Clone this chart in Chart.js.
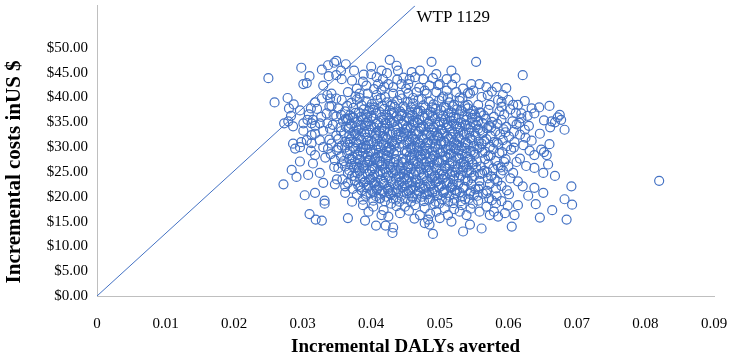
<!DOCTYPE html>
<html lang="en">
<head>
  <meta charset="UTF-8">
  <title>Incremental cost-effectiveness plane</title>
  <script src="https://cdn.jsdelivr.net/npm/chart.js"></script>
  <style>
    body { margin: 0; background: #fff; }
  </style>
</head>
<body>
  <canvas id="icerChart" width="738" height="357"></canvas>

  <script>
    // tick labels
    const xTicks = [0, 0.01, 0.02, 0.03, 0.04, 0.05, 0.06, 0.07, 0.08, 0.09];
    const xTickLabels = ['0', '0.01', '0.02', '0.03', '0.04', '0.05', '0.06', '0.07', '0.08', '0.09'];
    const yTicks = [0, 5, 10, 15, 20, 25, 30, 35, 40, 45, 50];

    // willingness-to-pay line (origin to top edge)
    const wtpLabel = 'WTP 1129';
    const wtpLine = [[0, 0], [0.0464, 58.5]];

    // simulated (DALYs averted, cost) pairs
    const upperPoints = [
      [0.0250,43.9],[0.0298,46.0],[0.0310,44.3],[0.0301,42.7],[0.0306,42.9],[0.0328,45.6],[0.0330,42.4],
      [0.0337,46.5],[0.0346,47.0],[0.0349,47.4],[0.0363,46.7],[0.0338,44.3],[0.0349,44.5],[0.0357,43.7],
      [0.0356,45.4],[0.0259,39.0],[0.0278,39.9],[0.0280,37.8],[0.0312,37.8],[0.0328,39.8],[0.0336,40.5],
      [0.0342,40.8],[0.0340,39.8],[0.0349,39.8],[0.0357,39.5],[0.0366,41.1],[0.0335,36.8],[0.0342,38.3],
      [0.0352,37.8],[0.0273,34.8],[0.0301,34.8],[0.0307,35.5],[0.0315,35.5],[0.0313,34.8],[0.0325,34.8],
      [0.0336,34.8],[0.0349,36.2],[0.0356,36.5],[0.0359,35.2],[0.0366,35.8],
      [0.0375,45.4],[0.0427,47.6],[0.0400,46.2],[0.0415,45.4],[0.0437,46.4],[0.0439,45.4],[0.0488,47.2],
      [0.0517,45.4],[0.0495,44.7],[0.0500,42.7],[0.0510,43.7],[0.0523,43.9],[0.0459,45.1],[0.0471,45.4],
      [0.0456,43.7],[0.0464,44.1],[0.0476,43.7],[0.0485,42.4],[0.0478,41.4],[0.0454,42.7],[0.0444,42.7],
      [0.0400,44.7],[0.0408,44.1],[0.0417,43.7],[0.0425,42.7],[0.0410,42.7],[0.0432,42.1],[0.0379,41.8],
      [0.0393,42.4],[0.0383,40.8],[0.0395,40.8],[0.0408,40.5],[0.0420,40.1],[0.0432,40.8],[0.0442,40.5],
      [0.0454,40.8],[0.0466,41.1],[0.0481,40.8],[0.0495,41.1],[0.0510,41.4],[0.0524,41.1],[0.0534,41.8],
      [0.0388,43.2],[0.0447,44.0],[0.0470,42.0],[0.0490,43.9],[0.0505,40.2],[0.0529,40.0],[0.0415,41.5],
      [0.0461,39.9],[0.0518,42.6],[0.0541,40.9],
      [0.0553,47.2],[0.0621,44.5],[0.0546,42.7],[0.0558,42.7],[0.0568,42.1],[0.0583,42.1],[0.0597,41.9],
      [0.0544,40.8],[0.0561,40.1],[0.0570,40.5],[0.0585,39.5],[0.0600,39.5],[0.0541,38.5],[0.0556,38.5],
      [0.0573,38.5],[0.0590,39.1],[0.0590,38.1],[0.0607,38.5],[0.0614,38.5],[0.0624,39.3],[0.0619,36.8],
      [0.0634,37.8],[0.0638,36.8],[0.0660,38.3],[0.0675,36.5],[0.0677,35.5],[0.0663,35.2],
      [0.0372,43.4],[0.0389,44.6],[0.0423,44.9],[0.0451,41.8],[0.0438,43.6],[0.0498,42.5],[0.0512,40.0],
      [0.0549,41.4],[0.0576,41.2],[0.0592,40.5],[0.0377,40.2],[0.0404,41.7],[0.0419,42.2]
    ];

    const corePoints = [
      [0.0371,38.9],[0.0379,39.6],[0.0386,38.4],[0.0393,39.2],[0.0401,38.7],[0.0409,39.5],[0.0416,38.3],
      [0.0423,39.0],[0.0431,38.6],[0.0438,39.4],[0.0447,38.2],[0.0453,39.1],[0.0461,38.8],[0.0469,39.6],
      [0.0476,38.4],[0.0484,39.2],[0.0491,38.6],[0.0499,39.4],[0.0506,38.1],[0.0514,39.0],[0.0521,38.5],
      [0.0529,39.3],[0.0537,38.3],[0.0287,38.6],[0.0318,39.0],[0.0645,38.0],
      [0.0296,37.4],[0.0321,37.7],[0.0362,37.2],[0.0374,37.9],[0.0382,37.0],[0.0389,37.6],[0.0397,37.3],
      [0.0405,38.0],[0.0412,37.1],[0.0419,37.7],[0.0427,37.4],[0.0434,38.1],[0.0442,37.2],[0.0449,37.8],
      [0.0457,37.0],[0.0464,37.6],[0.0472,37.3],[0.0479,38.0],[0.0487,37.1],[0.0494,37.7],[0.0502,37.4],
      [0.0509,37.9],[0.0517,37.0],[0.0525,37.6],[0.0533,37.2],[0.0541,37.8],[0.0549,37.3],[0.0558,37.0],
      [0.0571,37.5],[0.0587,37.2],[0.0603,37.6],[0.0611,36.9],
      [0.0283,36.3],[0.0309,36.6],[0.0327,36.1],[0.0369,36.4],[0.0377,36.9],[0.0385,36.1],[0.0392,36.6],
      [0.0400,36.2],[0.0407,36.8],[0.0415,36.0],[0.0422,36.5],[0.0430,36.9],[0.0437,36.2],[0.0445,36.7],
      [0.0452,36.0],[0.0460,36.5],[0.0467,36.9],[0.0475,36.2],[0.0482,36.7],[0.0490,36.1],[0.0497,36.6],
      [0.0505,36.3],[0.0512,36.8],[0.0520,36.1],[0.0528,36.6],[0.0536,36.2],[0.0545,36.7],[0.0553,36.0],
      [0.0564,36.4],[0.0579,36.1],[0.0594,36.6],[0.0628,36.3],[0.0672,36.0],[0.0668,35.0],
      [0.0279,35.2],[0.0365,35.4],[0.0373,35.9],[0.0380,35.1],[0.0388,35.6],[0.0395,35.2],[0.0403,35.8],
      [0.0410,35.0],[0.0418,35.5],[0.0425,35.9],[0.0433,35.1],[0.0440,35.6],[0.0448,35.3],[0.0455,35.8],
      [0.0463,35.0],[0.0470,35.5],[0.0478,35.9],[0.0485,35.2],[0.0493,35.7],[0.0500,35.1],[0.0508,35.6],
      [0.0516,35.3],[0.0523,35.8],[0.0531,35.0],[0.0539,35.5],[0.0547,35.9],[0.0556,35.2],[0.0567,35.7],
      [0.0576,35.1],[0.0590,35.5],[0.0606,35.2],[0.0619,35.8],[0.0652,35.4],
      [0.0286,34.2],[0.0318,34.3],[0.0344,34.5],[0.0363,34.1],[0.0370,34.7],[0.0378,34.0],[0.0385,34.5],
      [0.0393,34.9],[0.0400,34.2],[0.0408,34.7],[0.0415,34.0],[0.0423,34.6],[0.0430,34.9],[0.0438,34.2],
      [0.0446,34.7],[0.0453,34.1],[0.0461,34.5],[0.0468,34.9],[0.0476,34.2],[0.0483,34.7],[0.0491,34.0],
      [0.0498,34.5],[0.0506,34.9],[0.0513,34.2],[0.0521,34.7],[0.0529,34.1],[0.0537,34.6],[0.0545,34.0],
      [0.0553,34.5],[0.0562,34.9],[0.0572,34.3],[0.0584,34.7],[0.0597,34.1],[0.0612,34.6],[0.0630,34.3],
      [0.0661,34.0],
      [0.0301,33.3],[0.0330,33.3],[0.0340,33.7],[0.0356,33.2],[0.0367,33.7],[0.0375,33.1],[0.0382,33.6],
      [0.0390,33.0],[0.0397,33.5],[0.0405,33.9],[0.0412,33.2],[0.0420,33.7],[0.0427,33.1],[0.0435,33.6],
      [0.0443,33.0],[0.0450,33.5],[0.0458,33.9],[0.0465,33.2],[0.0473,33.7],[0.0480,33.1],[0.0488,33.6],
      [0.0495,33.0],[0.0503,33.5],[0.0510,33.9],[0.0518,33.2],[0.0526,33.7],[0.0534,33.1],[0.0542,33.6],
      [0.0550,33.0],[0.0559,33.4],[0.0569,33.8],[0.0581,33.2],[0.0593,33.6],[0.0608,33.1],[0.0624,33.5],
      [0.0682,33.5],
      [0.0313,32.4],[0.0318,32.7],[0.0349,32.3],[0.0360,32.8],[0.0368,32.2],[0.0376,32.7],[0.0383,32.1],
      [0.0391,32.6],[0.0398,32.9],[0.0406,32.3],[0.0413,32.8],[0.0421,32.0],[0.0428,32.5],[0.0436,32.9],
      [0.0443,32.2],[0.0451,32.7],[0.0459,32.1],[0.0466,32.6],[0.0474,32.0],[0.0481,32.5],[0.0489,32.9],
      [0.0496,32.2],[0.0504,32.7],[0.0511,32.1],[0.0519,32.6],[0.0527,32.0],[0.0535,32.5],[0.0543,32.9],
      [0.0552,32.3],[0.0562,32.8],[0.0574,32.2],[0.0588,32.6],[0.0601,32.1],[0.0617,32.5],[0.0646,32.7],
      [0.0286,30.7],[0.0298,31.0],[0.0306,31.4],[0.0313,30.8],[0.0325,31.4],[0.0342,30.7],[0.0352,31.6],
      [0.0362,31.1],[0.0370,31.6],[0.0378,31.0],[0.0385,31.5],[0.0393,31.9],[0.0400,31.2],[0.0408,31.7],
      [0.0415,31.1],[0.0423,31.6],[0.0430,31.0],[0.0438,31.5],[0.0446,31.9],[0.0453,31.2],[0.0461,31.7],
      [0.0468,31.1],[0.0476,31.6],[0.0483,31.0],[0.0491,31.5],[0.0498,31.9],[0.0506,31.2],[0.0513,31.7],
      [0.0521,31.1],[0.0529,31.6],[0.0538,31.0],[0.0547,31.5],[0.0557,31.1],[0.0568,31.6],[0.0579,31.0],
      [0.0592,31.4],[0.0609,31.0],[0.0634,31.3],
      [0.0289,29.7],[0.0296,30.0],[0.0330,30.0],[0.0337,29.7],[0.0357,30.3],[0.0366,30.8],[0.0373,30.1],
      [0.0381,30.6],[0.0388,30.0],[0.0396,30.5],[0.0403,30.9],[0.0411,30.2],[0.0418,30.7],[0.0426,30.1],
      [0.0433,30.6],[0.0441,30.0],[0.0448,30.5],[0.0456,30.9],[0.0463,30.2],[0.0471,30.7],[0.0478,30.1],
      [0.0486,30.6],[0.0493,30.0],[0.0501,30.5],[0.0508,30.9],[0.0516,30.2],[0.0524,30.7],[0.0532,30.1],
      [0.0541,30.6],[0.0550,30.2],[0.0561,30.7],[0.0573,30.1],[0.0585,30.6],[0.0598,30.2],[0.0622,30.4],
      [0.0660,30.6],
      [0.0312,29.3],[0.0350,29.4],[0.0362,29.9],[0.0369,29.2],[0.0377,29.7],[0.0384,29.1],[0.0392,29.6],
      [0.0399,29.0],[0.0407,29.5],[0.0414,29.9],[0.0422,29.2],[0.0429,29.7],[0.0437,29.1],[0.0452,29.0],
      [0.0459,29.5],[0.0467,29.9],[0.0474,29.2],[0.0482,29.7],[0.0489,29.1],[0.0497,29.6],[0.0504,29.0],
      [0.0512,29.5],[0.0520,29.9],[0.0528,29.3],[0.0536,29.8],[0.0545,29.2],[0.0555,29.7],[0.0566,29.1],
      [0.0578,29.6],[0.0591,29.0],[0.0604,29.5],[0.0648,29.5],[0.0652,29.0],
      [0.0318,28.4],[0.0341,28.6],[0.0356,28.1],[0.0365,28.7],[0.0373,28.0],[0.0380,28.5],[0.0388,28.9],
      [0.0395,28.2],[0.0403,28.7],[0.0410,28.1],[0.0418,28.6],[0.0425,28.0],[0.0433,28.8],[0.0456,28.3],
      [0.0463,28.8],[0.0471,28.1],[0.0478,28.6],[0.0486,28.0],[0.0493,28.5],[0.0501,28.9],[0.0508,28.2],
      [0.0516,28.7],[0.0524,28.1],[0.0532,28.6],[0.0541,28.0],[0.0551,28.5],[0.0562,28.9],[0.0574,28.3],
      [0.0587,28.8],[0.0617,27.7],[0.0638,28.4],[0.0656,28.4],
      [0.0296,27.1],[0.0347,27.4],[0.0360,27.2],[0.0368,27.7],[0.0376,27.1],[0.0383,27.6],[0.0391,27.0],
      [0.0398,27.5],[0.0406,27.9],[0.0413,27.2],[0.0421,27.7],[0.0428,27.1],[0.0436,27.6],[0.0444,27.0],
      [0.0451,27.5],[0.0459,27.9],[0.0466,27.2],[0.0474,27.7],[0.0481,27.1],[0.0489,27.6],[0.0496,27.0],
      [0.0504,27.5],[0.0511,27.9],[0.0519,27.2],[0.0527,27.7],[0.0535,27.1],[0.0544,27.6],[0.0554,27.1],
      [0.0566,27.6],[0.0581,27.2],[0.0596,27.6],
      [0.0315,26.7],[0.0357,26.7],[0.0362,26.1],[0.0371,26.6],[0.0379,26.0],[0.0386,26.5],[0.0394,26.9],
      [0.0401,26.2],[0.0409,26.7],[0.0416,26.1],[0.0424,26.6],[0.0431,26.0],[0.0439,26.5],[0.0446,26.9],
      [0.0454,26.2],[0.0461,26.7],[0.0469,26.1],[0.0476,26.6],[0.0484,26.0],[0.0491,26.5],[0.0499,26.9],
      [0.0507,26.2],[0.0514,26.7],[0.0522,26.1],[0.0530,26.6],[0.0539,26.0],[0.0549,26.5],[0.0560,26.1],
      [0.0571,26.6],[0.0585,26.2],[0.0600,26.1],[0.0626,26.2],[0.0638,25.8],[0.0658,26.5],
      [0.0284,25.4],[0.0352,25.8],[0.0368,25.3],[0.0375,25.8],[0.0383,25.2],[0.0390,25.7],[0.0398,25.1],
      [0.0405,25.6],[0.0413,25.0],[0.0420,25.5],[0.0428,25.9],[0.0435,25.2],[0.0443,25.7],[0.0450,25.1],
      [0.0458,25.6],[0.0465,25.0],[0.0473,25.5],[0.0480,25.9],[0.0488,25.2],[0.0495,25.7],[0.0503,25.1],
      [0.0511,25.6],[0.0518,25.0],[0.0526,25.5],[0.0534,25.9],[0.0543,25.3],[0.0553,25.8],[0.0565,25.2],
      [0.0578,25.7],[0.0592,25.3],
      [0.0291,24.0],[0.0308,24.4],[0.0325,24.8],[0.0366,24.8],[0.0372,24.2],[0.0380,24.7],[0.0387,24.1],
      [0.0395,24.6],[0.0402,24.0],[0.0410,24.5],[0.0417,24.9],[0.0425,24.2],[0.0432,24.7],[0.0440,24.1],
      [0.0447,24.6],[0.0455,24.0],[0.0462,24.5],[0.0470,24.9],[0.0477,24.2],[0.0485,24.7],[0.0492,24.1],
      [0.0500,24.6],[0.0507,24.0],[0.0515,24.5],[0.0523,24.9],[0.0531,24.3],[0.0540,24.8],[0.0550,24.2],
      [0.0562,24.7],[0.0575,24.1],[0.0589,24.6],[0.0607,24.8],[0.0651,24.8],[0.0668,24.2],
      [0.0358,23.5],[0.0376,23.2],[0.0384,23.7],[0.0391,23.1],[0.0399,23.6],[0.0406,23.0],[0.0414,23.5],
      [0.0421,23.9],[0.0429,23.2],[0.0436,23.7],[0.0444,23.1],[0.0451,23.6],[0.0459,23.0],[0.0466,23.5],
      [0.0474,23.9],[0.0481,23.2],[0.0489,23.7],[0.0496,23.1],[0.0504,23.6],[0.0512,23.0],[0.0520,23.5],
      [0.0528,23.9],[0.0537,23.3],[0.0547,23.8],[0.0558,23.2],[0.0570,23.7],[0.0584,23.1],[0.0614,23.1],
      [0.0272,22.5],[0.0330,22.8],[0.0347,22.5],[0.0362,22.1],[0.0366,22.8],[0.0381,22.3],[0.0389,22.8],
      [0.0396,22.2],[0.0404,22.7],[0.0411,22.1],[0.0419,22.6],[0.0426,22.0],[0.0434,22.5],[0.0441,22.9],
      [0.0449,22.2],[0.0456,22.7],[0.0464,22.1],[0.0471,22.6],[0.0479,22.0],[0.0486,22.5],[0.0494,22.9],
      [0.0502,22.2],[0.0510,22.7],[0.0518,22.1],[0.0527,22.6],[0.0536,22.0],[0.0546,22.5],[0.0558,22.1],
      [0.0573,22.6],[0.0590,22.2],[0.0621,22.1],[0.0692,22.1],
      [0.0362,20.8],[0.0373,21.6],[0.0386,21.3],[0.0394,21.8],[0.0401,21.2],[0.0409,21.7],[0.0416,21.1],
      [0.0424,21.6],[0.0431,21.0],[0.0439,21.5],[0.0446,21.9],[0.0454,21.2],[0.0461,21.7],[0.0469,21.1],
      [0.0476,21.6],[0.0484,21.0],[0.0491,21.5],[0.0499,21.9],[0.0507,21.3],[0.0516,21.8],[0.0525,21.2],
      [0.0534,21.7],[0.0545,21.1],[0.0556,21.6],[0.0569,21.2],[0.0582,21.7],[0.0598,21.3],[0.0638,21.8],
      [0.0651,20.8],
      [0.0303,20.3],[0.0318,20.8],[0.0379,20.4],[0.0392,20.2],[0.0399,20.7],[0.0407,20.1],[0.0414,20.6],
      [0.0422,20.0],[0.0429,20.5],[0.0437,20.9],[0.0444,20.2],[0.0452,20.7],[0.0459,20.1],[0.0467,20.6],
      [0.0474,20.0],[0.0482,20.5],[0.0489,20.9],[0.0497,20.3],[0.0505,20.8],[0.0514,20.2],[0.0523,20.7],
      [0.0533,20.1],[0.0543,20.6],[0.0555,20.2],[0.0568,20.7],[0.0583,20.1],[0.0601,20.5],[0.0629,20.2],
      [0.0332,19.2],[0.0372,19.0],[0.0388,19.4],[0.0403,19.2],[0.0412,19.7],[0.0420,19.1],[0.0432,19.6],
      [0.0441,19.0],[0.0450,19.5],[0.0458,19.0],[0.0466,19.6],[0.0477,19.1],[0.0486,19.6],[0.0494,19.0],
      [0.0503,19.5],[0.0512,19.0],[0.0521,19.6],[0.0531,19.1],[0.0542,19.6],[0.0556,19.2],[0.0572,19.7],
      [0.0590,19.1],[0.0682,19.5]
    ];

    // extra points in the saturated middle of the cloud
    const coreFill = [
      [0.0374,36.0],[0.0391,34.4],[0.0403,37.5],[0.0419,33.3],[0.0427,35.4],[0.0444,36.3],[0.0452,33.8],
      [0.0468,37.2],[0.0473,34.0],[0.0489,36.4],[0.0502,33.6],[0.0515,36.0],[0.0524,34.2],[0.0531,37.4],
      [0.0548,35.0],[0.0556,33.7],
      [0.0378,32.5],[0.0386,29.8],[0.0395,31.3],[0.0411,28.8],[0.0417,32.2],[0.0434,30.3],[0.0440,32.6],
      [0.0457,29.8],[0.0464,31.4],[0.0479,28.7],[0.0487,32.3],[0.0494,30.7],[0.0509,29.6],[0.0517,32.0],
      [0.0526,30.4],[0.0539,28.8],[0.0544,31.8],[0.0558,30.0],
      [0.0371,27.6],[0.0382,25.9],[0.0396,27.2],[0.0404,24.4],[0.0415,26.4],[0.0423,28.3],[0.0437,25.3],
      [0.0446,27.7],[0.0455,24.8],[0.0468,26.8],[0.0472,28.5],[0.0483,25.4],[0.0497,27.3],[0.0505,24.5],
      [0.0514,26.3],[0.0529,27.8],[0.0533,25.2],[0.0547,26.9],[0.0559,24.6],
      [0.0384,22.0],[0.0397,23.4],[0.0408,21.4],[0.0418,23.0],[0.0427,20.7],[0.0439,22.3],[0.0448,23.9],
      [0.0457,21.4],[0.0465,22.9],[0.0478,20.5],[0.0487,22.2],[0.0498,23.6],[0.0506,21.0],[0.0519,22.5],
      [0.0529,20.9],[0.0541,23.2],[0.0552,21.5],
      [0.0365,38.3],[0.0383,39.9],[0.0398,38.0],[0.0414,39.9],[0.0428,38.3],[0.0445,39.8],[0.0458,38.0],
      [0.0474,39.7],[0.0489,38.0],[0.0503,39.8],[0.0519,38.2],[0.0533,39.8],
      [0.0363,35.7],[0.0381,33.4],[0.0394,36.0],[0.0407,32.9],[0.0421,34.9],[0.0433,37.0],[0.0448,32.9],
      [0.0461,35.3],[0.0470,33.2],[0.0484,34.0],[0.0497,32.4],[0.0511,34.6],[0.0527,32.9],[0.0538,34.3],
      [0.0551,36.6],[0.0563,33.1],
      [0.0369,31.0],[0.0380,28.4],[0.0392,30.3],[0.0405,27.6],[0.0409,30.6],[0.0426,29.0],[0.0431,31.2],
      [0.0449,29.2],[0.0455,31.5],[0.0469,29.3],[0.0481,30.9],[0.0491,28.2],[0.0502,31.1],[0.0514,28.6],
      [0.0523,29.6],[0.0537,30.9],[0.0549,29.0],[0.0565,31.2],
      [0.0376,24.1],[0.0389,26.3],[0.0401,25.4],[0.0412,27.0],[0.0422,25.0],[0.0433,26.9],[0.0441,24.5],
      [0.0453,26.0],[0.0462,27.4],[0.0476,24.6],[0.0486,26.9],[0.0493,24.3],[0.0508,25.8],[0.0521,24.2],
      [0.0536,26.5],[0.0546,24.9],[0.0569,25.0],
      [0.0393,20.6],[0.0405,22.3],[0.0413,19.6],[0.0425,21.2],[0.0436,19.4],[0.0447,21.0],[0.0460,19.8],
      [0.0471,21.9],[0.0484,19.4],[0.0493,21.1],[0.0509,19.8],[0.0522,21.4],[0.0537,19.5],[0.0550,20.4],
      [0.0560,36.9],[0.0575,34.0],[0.0583,30.9],[0.0571,28.2],[0.0594,27.0],[0.0580,23.6],[0.0563,20.6],
      [0.0596,33.0],[0.0608,29.9],[0.0589,25.9],[0.0576,19.3],[0.0603,23.7],[0.0616,34.9],[0.0612,27.0],
      [0.0625,31.9],[0.0631,29.3],
      [0.0355,34.0],[0.0352,29.9],[0.0346,26.0],[0.0350,23.5],[0.0345,36.5],[0.0339,31.5],[0.0333,27.9],
      [0.0339,38.2]
    ];

    const lowerPoints = [
      [0.0332,18.6],[0.0388,18.3],[0.0403,18.0],[0.0449,18.0],[0.0464,18.3],[0.0478,17.7],[0.0507,17.7],
      [0.0532,18.3],[0.0568,18.0],[0.0614,18.3],[0.0693,18.4],[0.0418,17.3],[0.0429,18.6],[0.0492,18.5],
      [0.0520,18.7],[0.0548,18.6],[0.0582,18.7],[0.0599,18.2],[0.0640,18.5],
      [0.0396,17.0],[0.0425,16.0],[0.0455,17.2],[0.0463,15.6],[0.0486,16.6],[0.0521,17.5],[0.0545,17.6],
      [0.0579,17.0],[0.0437,18.1],[0.0499,18.6],
      [0.0310,16.5],[0.0319,15.4],[0.0328,15.2],[0.0366,15.7],[0.0391,15.2],[0.0415,16.3],[0.0442,16.7],
      [0.0471,16.3],[0.0483,15.4],[0.0500,15.7],[0.0512,16.3],[0.0517,15.0],[0.0529,17.0],[0.0495,17.0],
      [0.0539,16.3],[0.0558,17.0],[0.0573,16.3],[0.0585,16.0],[0.0595,16.7],[0.0609,16.3],[0.0646,15.8],
      [0.0664,17.3],[0.0685,15.4],
      [0.0490,12.5],[0.0431,12.7],[0.0432,13.8],[0.0421,14.2],[0.0407,14.2],[0.0485,14.4],[0.0478,14.7],
      [0.0534,13.0],[0.0605,14.0],[0.0561,13.6],[0.0544,14.4],
      [0.0820,23.2]
    ];

    const blue = '#4472C4';
    const serif = "'Liberation Serif', 'Times New Roman', serif";

    const toXY = ([x, y]) => ({ x, y });
    const simData = [...upperPoints, ...corePoints, ...coreFill, ...lowerPoints].map(toXY);

    // axis titles and WTP label, placed from the scales
    const textPlugin = {
      id: 'texts',
      afterDraw(chart) {
        const { ctx } = chart;
        const xs = chart.scales.x;
        const ys = chart.scales.y;
        ctx.save();
        ctx.fillStyle = '#000';

        ctx.font = '17px ' + serif;
        ctx.textAlign = 'left';
        ctx.textBaseline = 'middle';
        ctx.fillText(wtpLabel, xs.getPixelForValue(0.0466), ys.getPixelForValue(56.2));

        ctx.font = 'bold 19px ' + serif;
        ctx.textAlign = 'center';
        ctx.fillText('Incremental DALYs averted',
          (xs.getPixelForValue(0) + xs.getPixelForValue(0.09)) / 2, 347);

        ctx.font = 'bold 21px ' + serif;
        const yMid = (ys.getPixelForValue(0) + ys.getPixelForValue(50)) / 2;
        ctx.translate(15, yMid);
        ctx.rotate(-Math.PI / 2);
        ctx.fillText('Incremental costs inUS $', 0, 0);
        ctx.restore();
      }
    };

    new Chart(document.getElementById('icerChart'), {
      type: 'scatter',
      data: {
        datasets: [
          {
            label: wtpLabel,
            type: 'line',
            data: wtpLine.map(toXY),
            borderColor: blue,
            borderWidth: 1,
            pointRadius: 0,
            fill: false
          },
          {
            label: 'Simulations',
            data: simData,
            pointStyle: 'circle',
            pointRadius: 4.5,
            borderColor: blue,
            backgroundColor: 'rgba(0,0,0,0)',
            pointBorderWidth: 1.2
          }
        ]
      },
      options: {
        responsive: false,
        devicePixelRatio: 1,
        animation: false,
        layout: { padding: { left: 0, right: 24, top: 0, bottom: 0 } },
        plugins: { legend: { display: false }, tooltip: { enabled: false } },
        scales: {
          x: {
            type: 'linear',
            min: 0,
            max: 0.09,
            grid: { display: false, drawTicks: false },
            border: { display: true, color: '#bfbfbf', width: 1 },
            afterBuildTicks: (s) => { s.ticks = xTicks.map(v => ({ value: v })); },
            ticks: {
              padding: 19,
              color: '#000',
              font: { family: serif, size: 15 },
              maxRotation: 0,
              callback: (v, i) => xTickLabels[i]
            },
            afterFit: (s) => { s.height = 61; s.paddingLeft = 0; s.paddingRight = 0; }
          },
          y: {
            type: 'linear',
            min: 0,
            max: 58.5,
            grid: { display: false, drawTicks: false },
            border: { display: true, color: '#bfbfbf', width: 1 },
            afterBuildTicks: (s) => { s.ticks = yTicks.map(v => ({ value: v })); },
            ticks: {
              padding: 9,
              color: '#000',
              font: { family: serif, size: 15 },
              callback: (v) => '$' + v.toFixed(2)
            },
            afterFit: (s) => { s.width = 97; s.paddingTop = 0; s.paddingBottom = 0; }
          }
        }
      },
      plugins: [textPlugin]
    });
  </script>
</body>
</html>
